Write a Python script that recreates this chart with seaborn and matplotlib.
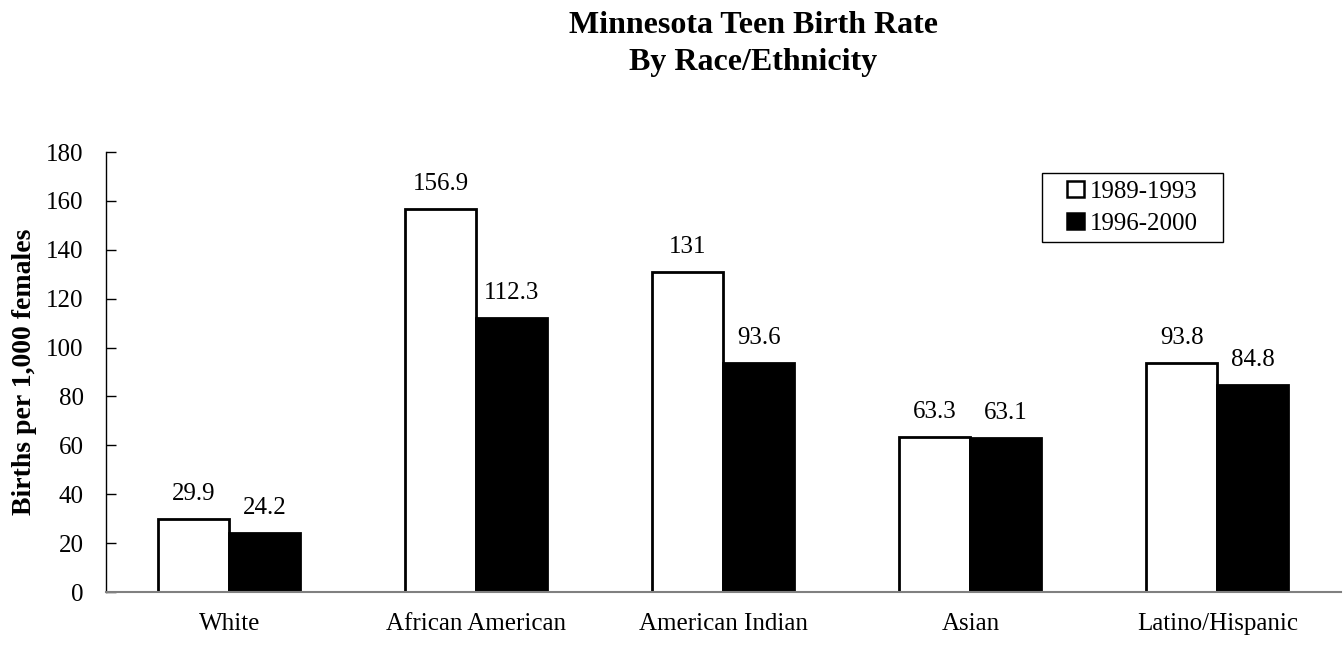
import matplotlib
matplotlib.use("Agg")
import matplotlib.pyplot as plt
from matplotlib.patches import Patch, Rectangle
import seaborn as sns
import pandas as pd

groups = ["White", "African American", "American Indian", "Asian", "Latino/Hispanic"]
rate_1989_1993 = [29.9, 156.9, 131, 63.3, 93.8]
rate_1996_2000 = [24.2, 112.3, 93.6, 63.1, 84.8]
labels_1989 = ["29.9", "156.9", "131", "63.3", "93.8"]
labels_1996 = ["24.2", "112.3", "93.6", "63.1", "84.8"]
periods = ["1989-1993", "1996-2000"]

df = pd.DataFrame({
    "group": groups * 2,
    "rate": rate_1989_1993 + rate_1996_2000,
    "period": [periods[0]] * 5 + [periods[1]] * 5,
})

sns.set_style("white")
plt.rcParams['font.family'] = ['Liberation Serif', 'DejaVu Serif']
plt.rcParams.update({"text.color": "black", "axes.labelcolor": "black",
                     "xtick.color": "black", "ytick.color": "black"})

fig = plt.figure(figsize=(13.43, 6.47), dpi=100)
ax = fig.add_axes([0.0789, 0.085, 0.9196, 0.68])

sns.barplot(data=df, x="group", y="rate", hue="period", order=groups,
            hue_order=periods, palette=["white", "black"], width=0.575,
            edgecolor="black", linewidth=2, ax=ax, legend=False)

# value labels
for container, labs in zip(ax.containers, [labels_1989, labels_1996]):
    ax.bar_label(container, labels=labs, padding=10, fontsize=18)

ax.set_ylim(0, 180)
ax.set_yticks(range(0, 181, 20))
ax.set_xlim(-0.5, 4.5)
ax.set_xlabel("")
ax.set_ylabel("Births per 1,000 females", fontsize=20, fontweight="bold", labelpad=7)
ax.tick_params(axis="y", labelsize=18, length=7, width=1, direction="in", left=True, pad=16)
ax.tick_params(axis="x", labelsize=18, length=0, pad=15)

for s in ["top", "right"]:
    ax.spines[s].set_visible(False)
ax.spines["left"].set_color("black")
ax.spines["bottom"].set_color("#808080")
ax.spines["left"].set_linewidth(1)
ax.spines["bottom"].set_linewidth(1.5)

# legend box drawn separately: wide side padding, tight rows
fig.patches.append(Rectangle((0.7759, 0.626), 0.1348, 0.1066, transform=fig.transFigure,
                             facecolor="white", edgecolor="black", linewidth=1, zorder=5))
handles = [Patch(facecolor="white", edgecolor="black", linewidth=1.8),
           Patch(facecolor="black", edgecolor="black", linewidth=1.8)]
leg = fig.legend(handles, periods, loc="center", bbox_to_anchor=(0.8433, 0.679),
                 fontsize=18, frameon=False, handlelength=0.65, handleheight=0.65,
                 handletextpad=0.25, borderpad=0, labelspacing=0.4)
leg.set_zorder(6)

fig.text(0.561, 0.961, "Minnesota Teen Birth Rate", ha="center", va="center",
         fontsize=23, fontweight="bold")
fig.text(0.561, 0.903, "By Race/Ethnicity", ha="center", va="center",
         fontsize=23, fontweight="bold")

fig.savefig("out.png", dpi=100)
